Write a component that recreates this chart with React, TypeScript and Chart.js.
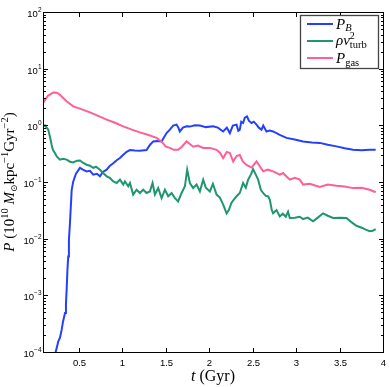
import React, { useEffect, useRef } from 'react';
import { Chart, registerables } from 'chart.js';

Chart.register(...registerables);

// ---------- data ----------
const pbTime = [0.22, 0.236, 0.251, 0.266, 0.285, 0.305, 0.32, 0.343, 0.354, 0.362, 0.371, 0.38, 0.388, 0.4, 0.42, 0.438, 0.469, 0.515, 0.549, 0.592, 0.63, 0.668, 0.71, 0.745, 0.779, 0.822, 0.86, 0.898, 0.941, 0.975, 1.01, 1.052, 1.09, 1.147, 1.204, 1.281, 1.319, 1.358, 1.4, 1.454, 1.472, 1.511, 1.549, 1.587, 1.626, 1.647, 1.664, 1.699, 1.741, 1.779, 1.836, 1.894, 1.963, 2.047, 2.101, 2.162, 2.204, 2.239, 2.273, 2.316, 2.336, 2.353, 2.37, 2.391, 2.411, 2.437, 2.457, 2.488, 2.514, 2.545, 2.572, 2.603, 2.623, 2.66, 2.698, 2.736, 2.775, 2.813, 2.89, 2.985, 3.081, 3.181, 3.273, 3.365, 3.465, 3.56, 3.655, 3.755, 3.847, 3.916];
const pbValue = [7e-5, 1.0e-4, 1.24e-4, 1.54e-4, 1.79e-4, 2.48e-4, 3.43e-4, 4.88e-4, 7.2e-4, 1.26e-3, 2.83e-3, 4.86e-3, 9.6e-3, 0.0189, 0.073, 0.1025, 0.14, 0.177, 0.165, 0.154, 0.158, 0.135, 0.14, 0.126, 0.15, 0.165, 0.194, 0.214, 0.244, 0.265, 0.3, 0.342, 0.366, 0.36, 0.356, 0.366, 0.45, 0.52, 0.53, 0.52, 0.58, 0.73, 0.84, 0.99, 1.03, 0.91, 0.78, 0.91, 0.96, 0.95, 1.0, 0.99, 0.93, 0.96, 0.91, 0.78, 0.91, 0.73, 0.99, 1.03, 0.8, 0.84, 1.16, 1.1, 1.36, 1.44, 1.21, 1.1, 1.16, 1.03, 0.91, 0.84, 0.99, 0.78, 0.81, 0.78, 0.73, 0.68, 0.6, 0.56, 0.52, 0.5, 0.49, 0.455, 0.425, 0.395, 0.37, 0.364, 0.37, 0.37];

const turbTime = [0.093, 0.112, 0.15, 0.17, 0.189, 0.204, 0.227, 0.25, 0.285, 0.32, 0.362, 0.4, 0.438, 0.481, 0.515, 0.549, 0.592, 0.63, 0.668, 0.699, 0.745, 0.779, 0.822, 0.859, 0.898, 0.937, 0.975, 1.013, 1.032, 1.07, 1.09, 1.127, 1.166, 1.204, 1.242, 1.281, 1.319, 1.35, 1.377, 1.415, 1.454, 1.492, 1.53, 1.569, 1.607, 1.644, 1.684, 1.722, 1.748, 1.779, 1.817, 1.856, 1.894, 1.932, 1.963, 2.009, 2.044, 2.086, 2.124, 2.162, 2.201, 2.227, 2.258, 2.285, 2.316, 2.353, 2.391, 2.422, 2.449, 2.48, 2.506, 2.537, 2.564, 2.595, 2.621, 2.652, 2.679, 2.698, 2.721, 2.736, 2.775, 2.813, 2.848, 2.882, 2.908, 2.928, 2.985, 3.043, 3.081, 3.135, 3.196, 3.25, 3.311, 3.365, 3.426, 3.502, 3.579, 3.629, 3.694, 3.755, 3.801, 3.847, 3.882, 3.916];
const turbValue = [0.957, 1.0, 0.84, 0.63, 0.455, 0.37, 0.325, 0.28, 0.248, 0.258, 0.248, 0.228, 0.222, 0.238, 0.24, 0.219, 0.202, 0.194, 0.177, 0.186, 0.165, 0.146, 0.126, 0.118, 0.1025, 0.096, 0.11, 0.09, 0.1025, 0.084, 0.096, 0.06, 0.073, 0.064, 0.073, 0.064, 0.068, 0.096, 0.06, 0.078, 0.052, 0.073, 0.056, 0.064, 0.052, 0.0455, 0.064, 0.084, 0.165, 0.096, 0.078, 0.09, 0.068, 0.11, 0.079, 0.068, 0.093, 0.06, 0.053, 0.04, 0.028, 0.032, 0.043, 0.049, 0.056, 0.064, 0.096, 0.079, 0.11, 0.135, 0.169, 0.135, 0.11, 0.073, 0.064, 0.057, 0.056, 0.049, 0.032, 0.028, 0.032, 0.0247, 0.0276, 0.0244, 0.03, 0.0232, 0.0235, 0.0244, 0.0222, 0.0235, 0.0202, 0.0235, 0.028, 0.0254, 0.0232, 0.0235, 0.0232, 0.02, 0.0169, 0.0156, 0.0144, 0.0135, 0.0138, 0.0148];

const gasTime = [0.093, 0.147, 0.208, 0.25, 0.285, 0.354, 0.438, 0.515, 0.63, 0.745, 0.822, 0.917, 1.013, 1.112, 1.204, 1.296, 1.396, 1.457, 1.503, 1.549, 1.595, 1.644, 1.687, 1.741, 1.779, 1.817, 1.871, 1.932, 2.009, 2.086, 2.124, 2.162, 2.204, 2.239, 2.277, 2.319, 2.353, 2.388, 2.43, 2.488, 2.545, 2.583, 2.621, 2.675, 2.736, 2.813, 2.851, 2.882, 2.928, 2.985, 3.043, 3.081, 3.158, 3.273, 3.365, 3.465, 3.56, 3.655, 3.755, 3.847, 3.916];
const gasValue = [2.51, 3.32, 3.81, 3.77, 3.47, 2.72, 2.16, 1.97, 1.69, 1.42, 1.26, 1.11, 0.96, 0.84, 0.75, 0.68, 0.6, 0.51, 0.42, 0.4, 0.37, 0.37, 0.42, 0.52, 0.47, 0.42, 0.44, 0.4, 0.4, 0.37, 0.33, 0.265, 0.34, 0.325, 0.23, 0.29, 0.3, 0.23, 0.2, 0.18, 0.23, 0.19, 0.154, 0.165, 0.154, 0.135, 0.144, 0.129, 0.11, 0.119, 0.11, 0.09, 0.093, 0.082, 0.09, 0.086, 0.083, 0.078, 0.079, 0.073, 0.066];

const xTickValues = [0.5, 1, 1.5, 2, 2.5, 3, 3.5, 4];
const xTickLabels = ['0.5', '1', '1.5', '2', '2.5', '3', '3.5', '4'];
const yTickExponents = [-4, -3, -2, -1, 0, 1, 2];
const yTickExponentLabels = ['\u22124', '\u22123', '\u22122', '\u22121', '0', '1', '2'];

const X_MIN = 0.09;
const X_MAX = 4;
const Y_MIN = 1e-4;
const Y_MAX = 1e2;

const BLUE = '#2440ff';
const GREEN = '#1f9670';
const PINK = '#ff5e98';

const SANS = "'Liberation Sans', Arial, sans-serif";
const SERIF = "'Liberation Serif', 'DejaVu Serif', serif";

type Seg = { t: string; size: number; italic?: boolean; dy?: number; stay?: boolean };

function segFont(s: Seg) {
  return `${s.italic ? 'italic ' : ''}${s.size}px ${SERIF}`;
}

function richWidth(ctx: CanvasRenderingContext2D, segs: Seg[]) {
  let w = 0;
  for (const s of segs) {
    ctx.font = segFont(s);
    if (!s.stay) w += ctx.measureText(s.t).width;
  }
  return w;
}

function drawRich(ctx: CanvasRenderingContext2D, x: number, y: number, segs: Seg[]) {
  let cx = x;
  for (const s of segs) {
    ctx.font = segFont(s);
    ctx.fillText(s.t, cx, y + (s.dy || 0));
    if (!s.stay) cx += ctx.measureText(s.t).width;
  }
}

const decorPlugin = {
  id: 'decor',
  afterDraw(chart: any) {
    const ctx: CanvasRenderingContext2D = chart.ctx;
    const { left, right, top, bottom } = chart.chartArea;
    const xs = chart.scales.x;
    const ys = chart.scales.y;
    ctx.save();
    ctx.strokeStyle = '#000';
    ctx.lineWidth = 1;
    const line = (x1: number, y1: number, x2: number, y2: number) => {
      ctx.beginPath();
      ctx.moveTo(x1, y1);
      ctx.lineTo(x2, y2);
      ctx.stroke();
    };
    // frame
    ctx.strokeRect(left + 0.5, top + 0.5, right - left, bottom - top);

    // x ticks + labels
    ctx.fillStyle = '#000';
    ctx.font = `9.5px ${SANS}`;
    ctx.textAlign = 'center';
    ctx.textBaseline = 'alphabetic';
    xTickValues.forEach((v, i) => {
      const px = Math.round(xs.getPixelForValue(v)) + 0.5;
      line(px, bottom + 0.5, px, bottom - 4);
      line(px, top + 0.5, px, top + 5);
      ctx.fillText(xTickLabels[i], px, bottom + 14);
    });

    // y ticks + labels
    yTickExponents.forEach((e, i) => {
      const py = Math.round(ys.getPixelForValue(Math.pow(10, e))) + 0.5;
      line(left + 0.5, py, left + 5, py);
      line(right + 0.5, py, right - 4, py);
      if (e < yTickExponents[yTickExponents.length - 1]) {
        for (let m = 2; m <= 9; m++) {
          const pm = Math.round(ys.getPixelForValue(m * Math.pow(10, e))) + 0.5;
          line(left + 0.5, pm, left + 3, pm);
          line(right + 0.5, pm, right - 2, pm);
        }
      }
      // label 10^e
      ctx.textAlign = 'left';
      ctx.font = `6.5px ${SANS}`;
      const ew = ctx.measureText(yTickExponentLabels[i]).width;
      ctx.font = `9.5px ${SANS}`;
      const bw = ctx.measureText('10').width;
      const xr = left - 1.5;
      ctx.fillText('10', xr - ew - bw, py + 4);
      ctx.font = `6.5px ${SANS}`;
      ctx.fillText(yTickExponentLabels[i], xr - ew, py - 1);
    });

    // x title
    const xTitle: Seg[] = [
      { t: 't', size: 16, italic: true },
      { t: ' (Gyr)', size: 16 },
    ];
    const xw = richWidth(ctx, xTitle);
    drawRich(ctx, (left + right) / 2 - xw / 2, 381, xTitle);

    // y title
    const yTitle: Seg[] = [
      { t: 'P', size: 15, italic: true },
      { t: ' (10', size: 15 },
      { t: '10', size: 10.5, dy: -6 },
      { t: ' M', size: 15, italic: true },
      { t: '\u2299', size: 9, dy: 3 },
      { t: 'kpc', size: 15 },
      { t: '\u22121', size: 10.5, dy: -6 },
      { t: 'Gyr', size: 15 },
      { t: '\u22122', size: 10.5, dy: -6 },
      { t: ')', size: 15 },
    ];
    const yw = richWidth(ctx, yTitle);
    ctx.save();
    ctx.translate(14, (top + bottom) / 2);
    ctx.rotate(-Math.PI / 2);
    drawRich(ctx, -yw / 2, 0, yTitle);
    ctx.restore();

    // legend
    const lx = 300.5, ly = 15.5, lw = 78, lh = 53;
    ctx.fillStyle = '#fff';
    ctx.fillRect(lx, ly, lw, lh);
    ctx.strokeStyle = '#444';
    ctx.lineWidth = 1.3;
    ctx.strokeRect(lx, ly, lw, lh);
    const rows: { color: string; y: number; segs: Seg[]; base: number }[] = [
      { color: BLUE, y: 24, base: 28.5, segs: [{ t: 'P', size: 15, italic: true }, { t: 'B', size: 10.5, italic: true, dy: 2.5 }] },
      {
        color: GREEN, y: 41, base: 44.5, segs: [
          { t: '\u03C1', size: 15, italic: true },
          { t: 'v', size: 15, italic: true },
          { t: '2', size: 10, dy: -5.5, stay: true },
          { t: 'turb', size: 10.5, dy: 3.5 },
        ],
      },
      { color: PINK, y: 58, base: 63, segs: [{ t: 'P', size: 15, italic: true }, { t: 'gas', size: 10.5, dy: 2.5 }] },
    ];
    rows.forEach((r) => {
      ctx.strokeStyle = r.color;
      ctx.lineWidth = 2;
      line(307, r.y, 333, r.y);
      ctx.fillStyle = '#000';
      ctx.textAlign = 'left';
      drawRich(ctx, 336, r.base, r.segs);
    });
    ctx.restore();
  },
};

function toPoints(ts: number[], vs: number[]) {
  return ts.map((t, i) => ({ x: t, y: vs[i] }));
}

export default function App() {
  const ref = useRef<HTMLCanvasElement | null>(null);
  useEffect(() => {
    if (!ref.current) return;
    const chart = new Chart(ref.current, {
      type: 'line',
      data: {
        datasets: [
          { label: 'P_gas', data: toPoints(gasTime, gasValue), borderColor: PINK, borderWidth: 2, pointRadius: 0, tension: 0, fill: false },
          { label: 'rho v^2 turb', data: toPoints(turbTime, turbValue), borderColor: GREEN, borderWidth: 2, pointRadius: 0, tension: 0, fill: false },
          { label: 'P_B', data: toPoints(pbTime, pbValue), borderColor: BLUE, borderWidth: 2, pointRadius: 0, tension: 0, fill: false },
        ],
      },
      options: {
        animation: false,
        responsive: false,
        events: [],
        layout: { padding: { left: 43, top: 12, right: 7, bottom: 35 } },
        plugins: { legend: { display: false }, tooltip: { enabled: false }, title: { display: false } },
        scales: {
          x: { type: 'linear', min: X_MIN, max: X_MAX, display: false },
          y: { type: 'logarithmic', min: Y_MIN, max: Y_MAX, display: false },
        },
      },
      plugins: [decorPlugin],
    } as any);
    return () => chart.destroy();
  }, []);
  return (
    <div style={{ position: 'absolute', left: 0, top: 0, width: 390, height: 387, background: '#fff' }}>
      <canvas ref={ref} width={390} height={387} style={{ display: 'block' }} />
    </div>
  );
}
